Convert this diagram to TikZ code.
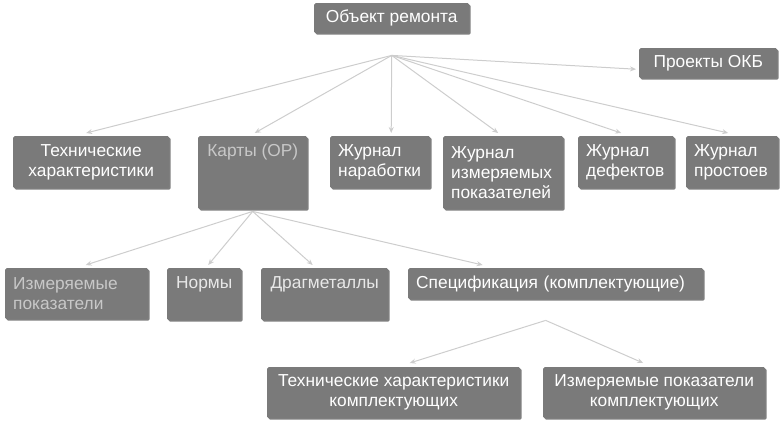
\documentclass[tikz,border=0pt]{standalone}
\usepackage{fontspec}
\setmainfont{Liberation Sans}
\usetikzlibrary{arrows.meta,positioning,calc,shadows}
\definecolor{boxgray}{RGB}{122,122,122}
\definecolor{linkgray}{RGB}{205,205,205}
\definecolor{dimtext}{RGB}{200,200,200}
\definecolor{softtext}{RGB}{232,232,232}

\begin{document}
\begin{tikzpicture}[x=1bp, y=-1bp,
  box/.style={fill=boxgray, rounded corners=1.5pt, anchor=north west,
              text=white, font=\fontsize{17.4}{20}\selectfont,
              inner xsep=8bp, inner ysep=4bp,
              drop shadow={shadow xshift=1.5bp, shadow yshift=-1.5bp,
                           opacity=0.5, fill=black}},
  lbox/.style={box, text width=#1, align=left},
  cbox/.style={box, align=center},
  topbox/.style={inner ysep=8bp, text height=12bp, text depth=#1},
  link/.style={draw=linkgray, line width=1bp,
               -{Stealth[length=6bp,width=5bp]}}
]
\useasboundingbox (0,0) rectangle (783,421);

% top level
\node[cbox, minimum width=155bp, minimum height=30bp] (obj) at (314,3) {Объект ремонта};
\node[cbox, minimum width=138bp, minimum height=30bp] (okb) at (639,48) {Проекты ОКБ};

% second row
\node[cbox, minimum width=156bp, minimum height=52bp] (tech) at (13,136) {Технические\\характеристики};
\node[cbox, topbox=45bp, minimum width=109bp, minimum height=73bp, text=dimtext] (karty) at (198,136) {Карты (ОР)};
\node[lbox=84bp, minimum height=52bp] (narab) at (330,136) {Журнал\\наработки};
\node[lbox=104bp, minimum height=73bp] (izmj) at (443,136) {Журнал\\измеряемых\\показателей};
\node[lbox=80bp, minimum height=52bp] (defk) at (578,136) {Журнал\\дефектов};
\node[lbox=76bp, minimum height=52bp] (prost) at (686,136) {Журнал\\простоев};

% third row
\node[lbox=127bp, minimum height=51bp, text=dimtext] (izm) at (5,268) {Измеряемые\\показатели};
\node[cbox, topbox=24bp, minimum width=74bp, minimum height=52bp, text=softtext] (norm) at (167,268) {Нормы};
\node[cbox, topbox=24bp, minimum width=127bp, minimum height=52bp, text=softtext] (drag) at (261,268) {Драгметаллы};
\node[lbox=279bp, minimum height=31bp] (spec) at (408,268) {Спецификация (комплектующие)};

% bottom row
\node[cbox, minimum width=253bp, minimum height=51bp] (tkk) at (267,367) {Технические характеристики\\комплектующих};
\node[cbox, minimum width=222bp, minimum height=51bp] (ikk) at (543,367) {Измеряемые показатели\\комплектующих};

\coordinate (hub) at ([yshift=-22bp]obj.south);
\coordinate (kbase) at ([yshift=-2bp]karty.south);
\coordinate (sbase) at ([xshift=-10bp, yshift=-21bp]spec.south);

\foreach \t/\dx in {tech/-5bp, karty/2bp, narab/11bp, izmj/-5bp, defk/-5bp, prost/-4bp}
  \draw[link] (hub) -- ([xshift=\dx, yshift=3bp]\t.north);
\draw[link] (hub) -- ([xshift=-3bp, yshift=-6bp]okb.west);

\foreach \t/\dx in {izm/9bp, norm/4bp, drag/-12bp, spec/-73bp}
  \draw[link] (kbase) -- ([xshift=\dx, yshift=3bp]\t.north);

\draw[link] (sbase) -- ([xshift=16bp, yshift=4bp]tkk.north);
\draw[link] (sbase) -- ([xshift=-11bp, yshift=4bp]ikk.north);
\end{tikzpicture}
\end{document}
